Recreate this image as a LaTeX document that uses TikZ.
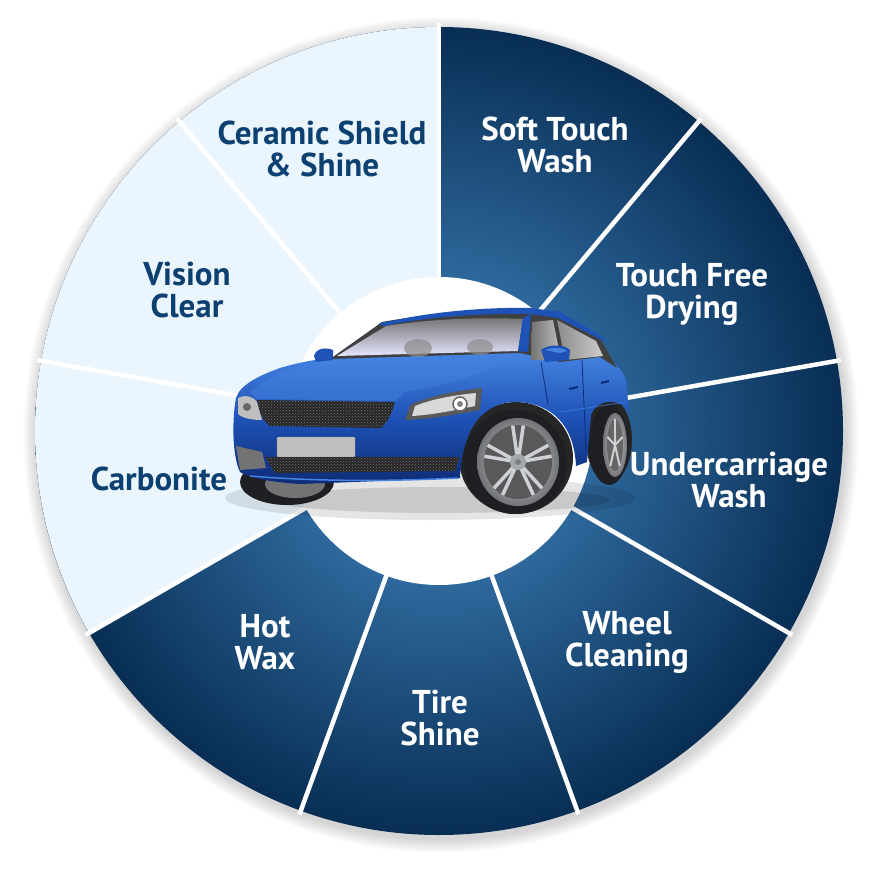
\documentclass[tikz,border=0pt]{standalone}
\usepackage{fontspec}
\usepackage{tikz}
\usetikzlibrary{calc,patterns,positioning}
\newfontfamily\wheelfont{PT Sans}
\definecolor{navy}{RGB}{12,64,112}
\definecolor{pale}{RGB}{234,245,254}
\definecolor{ringin}{RGB}{46,104,156}
\definecolor{ringout}{RGB}{8,46,84}
\definecolor{body}{RGB}{30,82,182}
\definecolor{bodydark}{RGB}{14,44,118}
\definecolor{bodylight}{RGB}{70,132,226}
\definecolor{tyre}{RGB}{30,31,35}
\definecolor{rim}{RGB}{205,209,214}
\pgfdeclareradialshading{ring}{\pgfpoint{0bp}{0bp}}{color(0bp)=(ringin); color(9.5bp)=(ringin); color(25bp)=(ringout); color(50bp)=(ringout)}

\begin{document}
\begin{tikzpicture}[x=1pt, y=-1pt]
	\tikzstyle{every node} = [align=center, font=\wheelfont\bfseries\fontsize{33}{32}\selectfont]
\useasboundingbox (0,0) rectangle (880,880);
\coordinate (c) at (439,431);
% shadow and ring
\foreach \r in {1,...,14}
	\fill[black, opacity=0.012] (441,435) circle[radius=404+\r];
\shade[shading=ring] (c) circle[radius=404];
\fill[pale] (c) -- ++(-90:404) arc[start angle=-90, end angle=-210, radius=404] -- cycle;
\foreach \a in {-90,-50,-10,30,70,110,150,190,230}
	\draw[white, line width=4.5pt] (c) ++(\a:150) -- ++(\a:258);
\fill[white] (c) circle[radius=154];
% car: shadow and wheels
\fill[black, opacity=0.10] (430,498) ellipse[x radius=205, y radius=22];
\fill[black, opacity=0.12] (440,500) ellipse[x radius=170, y radius=13];
\fill[tyre] (287,482) ellipse[x radius=47, y radius=23];
\fill[black!55] (295,484) ellipse[x radius=30, y radius=14];
\fill[black!85] (516,458) ellipse[x radius=57, y radius=56];
\fill[tyre] (515,462) ellipse[x radius=52, y radius=52];
\shade[inner color=rim!70!white, outer color=rim!55!black] (518,462) ellipse[x radius=41, y radius=44];
\fill[black!65] (518,462) ellipse[x radius=34, y radius=37];
\foreach \a in {-90,-18,54,126,198} {
	\draw[rim, line width=3.5pt] (518,462) -- ++({34*cos(\a-9)},{37*sin(\a-9)});
	\draw[rim, line width=3.5pt] (518,462) -- ++({34*cos(\a+9)},{37*sin(\a+9)});
}
\fill[rim!80!black] (518,462) circle[radius=8];
\fill[black!50] (518,462) circle[radius=3];
\fill[black!85] (609,440) ellipse[x radius=23, y radius=42];
\fill[tyre] (609,445) ellipse[x radius=20, y radius=40];
\shade[inner color=rim!70!white, outer color=rim!55!black] (615,445) ellipse[x radius=12, y radius=32];
\fill[black!60] (615,445) ellipse[x radius=8, y radius=26];
\foreach \a in {-90,-18,54,126,198}
	\draw[rim, line width=2pt] (615,445) -- ++({8*cos(\a)},{26*sin(\a)});
% car: body
\shade[top color=bodylight, bottom color=bodydark, middle color=body]
	(236,398) .. controls (240,385) and (258,376) .. (280,368)
	.. controls (300,362) and (318,359) .. (332,358)
	-- (520,352) -- (560,361) -- (600,356)
	.. controls (612,360) and (622,368) .. (626,380)
	-- (629,412) .. controls (624,400) and (598,396) .. (591,415)
	-- (587,462) -- (576,466)
	.. controls (574,425) and (552,403) .. (516,402)
	.. controls (482,402) and (462,430) .. (460,478)
	-- (300,484)
	.. controls (270,482) and (248,478) .. (240,472)
	.. controls (232,455) and (232,420) .. (236,398) -- cycle;
\fill[bodylight, opacity=0.45] (250,392) .. controls (270,375) and (300,364) .. (332,359)
	-- (519,353) .. controls (490,372) and (450,385) .. (405,392) -- (395,401) -- (257,399) -- cycle;
\fill[black!75] (330,359) -- (382,322) .. controls (430,313) and (490,311) .. (530,312)
	-- (557,316) -- (601,340) -- (617,368) -- (600,357) -- (560,362) -- (520,353) -- cycle;
\fill[body] (378,324) .. controls (430,311) and (490,307) .. (531,308) -- (560,312) -- (603,337)
	-- (606,342) -- (558,318) -- (530,314) .. controls (490,313) and (430,316) .. (384,326) -- cycle;
\shade[top color=black!55, bottom color=white!90!blue] (337,356) -- (386,326)
	.. controls (430,319) and (480,317) .. (523,319) -- (518,351) -- cycle;
\fill[black!45, opacity=0.7] (418,348) ellipse[x radius=14, y radius=9];
\fill[black!45, opacity=0.7] (480,347) ellipse[x radius=13, y radius=8];
\fill[body] (523,318) -- (531,314) -- (528,352) -- (518,351) -- cycle;
\shade[left color=black!55, right color=black!25] (532,322) -- (553,320) -- (561,360) -- (531,360) -- cycle;
\shade[left color=black!45, right color=black!20] (557,320) -- (596,341) -- (603,356) -- (565,360) -- cycle;
\fill[body] (314,356) .. controls (316,348) and (326,347) .. (333,350) -- (333,360) -- (316,362) -- cycle;
\fill[body] (541,350) .. controls (548,344) and (565,344) .. (570,350) -- (569,360) -- (545,362) -- cycle;
\fill[bodylight] (545,350) .. controls (552,347) and (562,347) .. (567,351) -- (560,353) -- cycle;
% car: grille and lights
\fill[black!85, postaction={pattern=crosshatch dots, pattern color=black!55}]
	(257,400) -- (395,402) .. controls (392,412) and (388,422) .. (381,428)
	-- (270,426) .. controls (262,420) and (258,410) .. (257,400) -- cycle;
\fill[black!25] (238,398) .. controls (246,394) and (254,397) .. (257,402) -- (262,420)
	.. controls (252,420) and (242,418) .. (238,414) -- cycle;
\fill[black!60] (247,407) circle[radius=4];
\fill[black!65] (405,420) -- (410,405) .. controls (430,396) and (455,391) .. (482,388)
	-- (480,410) .. controls (455,415) and (430,419) .. (405,420) -- cycle;
\fill[black!15] (412,416) -- (415,406) .. controls (432,399) and (455,395) .. (476,393)
	-- (475,406) .. controls (452,411) and (430,415) .. (412,416) -- cycle;
\draw[black!60, line width=1.5pt, fill=white] (460,404) circle[radius=7];
\fill[black!50] (460,404) circle[radius=3];
\draw[black!45, fill=black!25, rounded corners=1pt] (277,437) rectangle (355,457);
\fill[black!85, postaction={pattern=crosshatch dots, pattern color=black!55}]
	(265,457) -- (460,457) -- (455,471) -- (275,473) -- cycle;
\fill[black!55] (236,446) -- (262,452) -- (266,468) -- (240,470) -- cycle;
\draw[bodylight, line width=1.5pt] (250,476) .. controls (320,482) and (400,481) .. (458,478);
% car: side
\draw[bodydark, line width=0.8pt] (541,362) -- (548,404);
\draw[bodydark, line width=0.8pt] (582,360) -- (586,450);
\draw[bodylight, opacity=0.6, line width=1pt] (560,412) -- (626,402);
\draw[bodydark, line width=2pt] (569,389) -- (578,387);
\draw[bodydark, line width=2pt] (601,383) -- (609,381);
% labels
\node[text=navy] (1) at (322,149) {Ceramic Shield\\\& Shine};
\node[text=white] (2) at (555,145) {Soft Touch\\Wash};
\node[text=white] (3) at (692,294) {Touch Free\\Drying};
\node[text=white] (4) at (729,480) {Undercarriage\\Wash};
\node[text=white] (5) at (627,642) {Wheel\\Cleaning};
\node[text=white] (6) at (440,718) {Tire\\Shine};
\node[text=white] (7) at (265,642) {Hot\\Wax};
\node[text=navy] (8) at (159,479) {Carbonite};
\node[text=navy] (9) at (187,290) {Vision\\Clear};
\end{tikzpicture}
\end{document}
